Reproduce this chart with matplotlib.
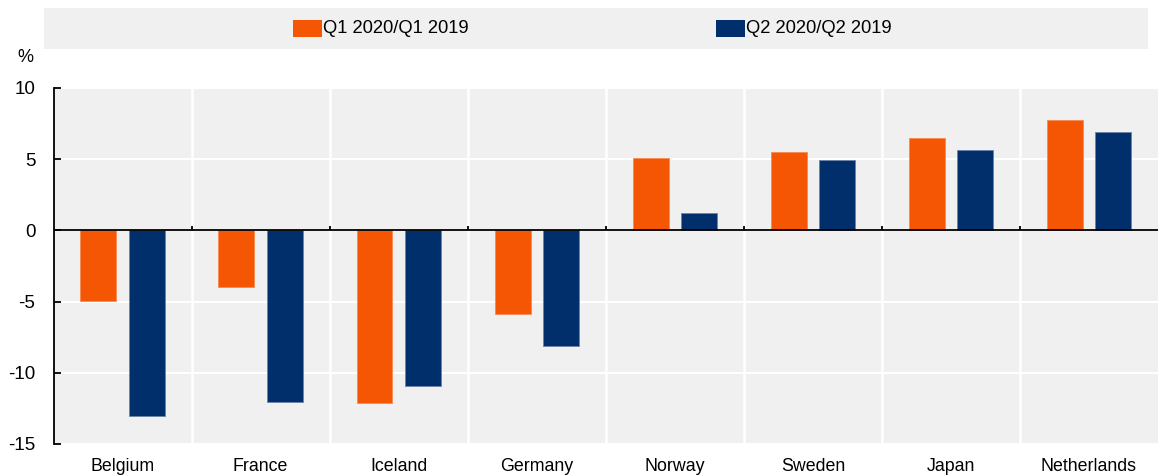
import matplotlib
matplotlib.use("Agg")
import matplotlib.pyplot as plt
from matplotlib.patches import Rectangle
import numpy as np
from matplotlib import font_manager

categories = ["Belgium", "France", "Iceland", "Germany", "Norway", "Sweden", "Japan", "Netherlands"]
q1_values = [-4.95, -4.0, -12.15, -5.85, 5.07, 5.5, 6.48, 7.77]
q2_values = [-13.0, -12.05, -10.9, -8.1, 1.23, 4.93, 5.63, 6.9]
series_labels = ["Q1 2020/Q1 2019", "Q2 2020/Q2 2019"]
yticks = [-15, -10, -5, 0, 5, 10]

ORANGE = "#F45604"
BLUE = "#002F6C"
BG = "#F0F0F0"

names = {f.name for f in font_manager.fontManager.ttflist}
fam = ["Liberation Sans Narrow"] if "Liberation Sans Narrow" in names else ["Liberation Sans"]
plt.rcParams["font.family"] = fam + ["DejaVu Sans"]

W, H = 1158, 476
fig = plt.figure(figsize=(W / 100, H / 100), dpi=100)

x0, x1 = 53.5, 1158
y0, y1 = 88, 444
ax = fig.add_axes([x0 / W, 1 - y1 / H, (x1 - x0) / W, (y1 - y0) / H])
ax.set_facecolor(BG)

x = np.arange(len(categories))
bw = 0.26
off = 0.175
ax.bar(x - off, q1_values, bw, color=ORANGE, edgecolor="#F78A50", linewidth=0.6, zorder=3)
ax.bar(x + off, q2_values, bw, color=BLUE, edgecolor="#6A84A8", linewidth=0.6, zorder=3)

ax.set_xlim(-0.5, len(categories) - 0.5)
ax.set_ylim(-15, 10)

# white grid
for yv in yticks:
    ax.axhline(yv, color="white", lw=1.5, zorder=1)
for b in np.arange(0.5, len(categories) - 0.5, 1):
    ax.axvline(b, color="white", lw=1.8, zorder=1)

# zero line with small ticks at category boundaries
ax.axhline(0, color="black", lw=1.3, zorder=4)
for b in np.arange(0.5, len(categories) - 0.5, 1):
    ax.plot([b, b], [0, 0.3], color="black", lw=1.3, zorder=4, solid_capstyle="butt")

for s in ["top", "right", "bottom"]:
    ax.spines[s].set_visible(False)
ax.spines["left"].set_color("black")
ax.spines["left"].set_linewidth(1.3)

ax.set_yticks(yticks)
ax.set_yticklabels([str(v) for v in yticks])
ax.tick_params(axis="y", direction="in", length=5, width=1.3, pad=13, labelsize=13.5, colors="black")
ax.set_xticks(x)
ax.set_xticklabels(categories)
ax.tick_params(axis="x", length=0, pad=10, labelsize=12.8)

fig.text(25 / W, 1 - 57 / H, "%", ha="center", va="center", fontsize=13)

# legend band
fig.patches.append(Rectangle((44 / W, 1 - 49 / H), (1148 - 44) / W, 41 / H,
                             transform=fig.transFigure, facecolor=BG, edgecolor="none", zorder=0))
ly = 1 - 28.5 / H
for px, col, lab in [(293, ORANGE, series_labels[0]), (716, BLUE, series_labels[1])]:
    fig.patches.append(Rectangle((px / W, 1 - 37 / H), 29 / W, 17 / H,
                                 transform=fig.transFigure, facecolor=col, edgecolor="none", zorder=1))
    fig.text((px + 30) / W, ly, lab, ha="left", va="center", fontsize=13.2)

fig.savefig("out.png", dpi=100)
